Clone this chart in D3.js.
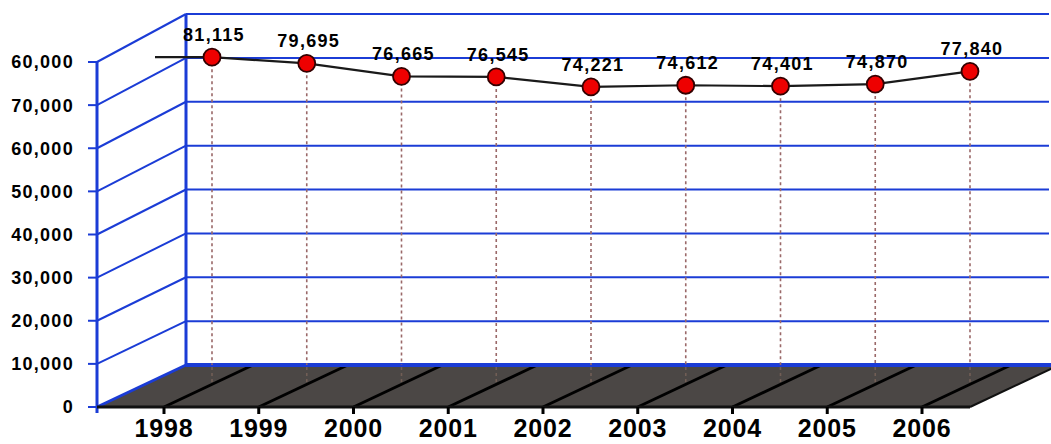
<!DOCTYPE html>
<html>
<head>
<meta charset="utf-8">
<script src="https://cdn.jsdelivr.net/npm/d3@7"></script>
<style>
  body { margin: 0; background: #fff; overflow: hidden; }
  svg { display: block; }
  text { font-family: "Liberation Sans", Arial, sans-serif; font-weight: bold; fill: #000; }
</style>
</head>
<body>
<script>
// data
var years = ["1998", "1999", "2000", "2001", "2002", "2003", "2004", "2005", "2006"];
var values = [81115, 79695, 76665, 76545, 74221, 74612, 74401, 74870, 77840];
var valueLabels = ["81,115", "79,695", "76,665", "76,545", "74,221", "74,612", "74,401", "74,870", "77,840"];
var tickValues = [0, 10000, 20000, 30000, 40000, 50000, 60000, 70000, 80000];
var tickLabels = ["0", "10,000", "20,000", "30,000", "40,000", "50,000", "60,000", "70,000", "60,000"];

var width = 1051, height = 444;
var blue = "#1b3cd6";
var depthX = 89; // offset from front plane to back wall
var floorRight = 970, wallLeft = 97, backRight = 1049;

var svg = d3.select("body").append("svg")
    .attr("width", width)
    .attr("height", height);

// scales
var yFront = d3.scaleLinear().domain([0, 80000]).range([407, 62]);
var yBack = d3.scaleLinear().domain([0, 80000]).range([365, 14]);
var x = d3.scalePoint().domain(years).range([164, 922]);
var ptX = function(d, i) { return x(years[i]) + 48; };

//back wall gridlines
svg.selectAll("line.grid")
    .data(tickValues.slice(1))
    .enter().append("line")
    .attr("class", "grid")
    .attr("x1", wallLeft + depthX).attr("x2", backRight)
    .attr("y1", function(d) { return yBack(d); })
    .attr("y2", function(d) { return yBack(d); })
    .attr("stroke", blue).attr("stroke-width", 2);

//left wall diagonals
svg.selectAll("line.side")
    .data(tickValues.slice(1))
    .enter().append("line")
    .attr("class", "side")
    .attr("x1", wallLeft).attr("x2", wallLeft + depthX)
    .attr("y1", function(d) { return yFront(d); })
    .attr("y2", function(d) { return yBack(d); })
    .attr("stroke", blue).attr("stroke-width", 2);

// left wall ticks
svg.selectAll("line.ytick")
    .data(tickValues)
    .enter().append("line")
    .attr("class", "ytick")
    .attr("x1", wallLeft - 9).attr("x2", wallLeft)
    .attr("y1", function(d) { return yFront(d); })
    .attr("y2", function(d) { return yFront(d); })
    .attr("stroke", blue).attr("stroke-width", 2);

// verticals
svg.append("line")
    .attr("x1", wallLeft).attr("x2", wallLeft)
    .attr("y1", yFront(80000)).attr("y2", yFront(0) + 6)
    .attr("stroke", blue).attr("stroke-width", 3);
svg.append("line")
    .attr("x1", wallLeft + depthX).attr("x2", wallLeft + depthX)
    .attr("y1", yBack(80000)).attr("y2", yBack(0))
    .attr("stroke", blue).attr("stroke-width", 3);

// floor
var floorPts = [
  [wallLeft, yFront(0)], [floorRight, yFront(0)],
  [floorRight + depthX, yBack(0)], [wallLeft + depthX, yBack(0)]
];
svg.append("polygon")
    .attr("points", floorPts.map(function(p) { return p.join(","); }).join(" "))
    .attr("fill", "#4b4745");

svg.selectAll("line.fdiag")
    .data(years)
    .enter().append("line")
    .attr("class", "fdiag")
    .attr("x1", function(d) { return x(d); })
    .attr("x2", function(d) { return x(d) + depthX; })
    .attr("y1", yFront(0)).attr("y2", yBack(0))
    .attr("stroke", "#000").attr("stroke-width", 3);

// floor edges
svg.append("line")
    .attr("x1", wallLeft + depthX).attr("x2", backRight + 4)
    .attr("y1", yBack(0)).attr("y2", yBack(0))
    .attr("stroke", blue).attr("stroke-width", 4);
svg.append("line")
    .attr("x1", wallLeft).attr("x2", wallLeft + depthX)
    .attr("y1", yFront(0)).attr("y2", yBack(0))
    .attr("stroke", blue).attr("stroke-width", 3);
svg.append("line")
    .attr("x1", wallLeft).attr("x2", floorRight)
    .attr("y1", yFront(0)).attr("y2", yFront(0))
    .attr("stroke", "#111").attr("stroke-width", 3);
svg.append("line")
    .attr("x1", floorRight).attr("x2", floorRight + depthX)
    .attr("y1", yFront(0)).attr("y2", yBack(0))
    .attr("stroke", "#111").attr("stroke-width", 2);

// x ticks
svg.selectAll("line.xtick")
    .data(years)
    .enter().append("line")
    .attr("class", "xtick")
    .attr("x1", function(d) { return x(d); })
    .attr("x2", function(d) { return x(d); })
    .attr("y1", yFront(0)).attr("y2", yFront(0) + 7)
    .attr("stroke", "#000").attr("stroke-width", 3);

// y labels
svg.selectAll("text.ylab")
    .data(tickValues)
    .enter().append("text")
    .attr("class", "ylab")
    .attr("x", 74)
    .attr("y", function(d) { return yFront(d); })
    .attr("dy", "0.36em")
    .attr("text-anchor", "end")
    .style("font-size", "18px")
    .style("letter-spacing", "1.3px")
    .text(function(d, i) { return tickLabels[i]; });

// x labels
svg.selectAll("text.xlab")
    .data(years)
    .enter().append("text")
    .attr("class", "xlab")
    .attr("x", function(d) { return x(d); })
    .attr("y", 437)
    .attr("text-anchor", "middle")
    .style("font-size", "25px")
    .style("letter-spacing", "0.8px")
    .text(function(d) { return d; });

// drop lines
svg.selectAll("line.drop")
    .data(values)
    .enter().append("line")
    .attr("class", "drop")
    .attr("x1", ptX).attr("x2", ptX)
    .attr("y1", function(d) { return yFront(d); })
    .attr("y2", yBack(0))
    .attr("stroke", "#9a6868").attr("stroke-width", 1.6)
    .attr("stroke-dasharray", "3,3");
svg.selectAll("line.drop2")
    .data(values)
    .enter().append("line")
    .attr("class", "drop2")
    .attr("x1", ptX).attr("x2", ptX)
    .attr("y1", yBack(0) + 2)
    .attr("y2", yBack(0) + 20)
    .attr("stroke", "#a07a6a").attr("stroke-width", 1.6)
    .attr("stroke-dasharray", "3,3")
    .attr("opacity", 0.45);

// data line (with the short lead-in at the left)
var linePts = values.map(function(d, i) { return [ptX(d, i), yFront(d)]; });
linePts.unshift([linePts[0][0] - 57, linePts[0][1]]);
svg.append("path")
    .attr("d", d3.line()(linePts))
    .attr("fill", "none")
    .attr("stroke", "#1a1a1a")
    .attr("stroke-width", 2.2);

svg.selectAll("circle.pt")
    .data(values)
    .enter().append("circle")
    .attr("class", "pt")
    .attr("cx", ptX)
    .attr("cy", function(d) { return yFront(d); })
    .attr("r", 8.5)
    .attr("fill", "#ee0000")
    .attr("stroke", "#300").attr("stroke-width", 1.8);

svg.selectAll("text.val")
    .data(values)
    .enter().append("text")
    .attr("class", "val")
    .attr("x", function(d, i) { return ptX(d, i) + 2; })
    .attr("y", function(d) { return yFront(d) - 16; })
    .attr("text-anchor", "middle")
    .style("font-size", "18px")
    .style("letter-spacing", "1.3px")
    .text(function(d, i) { return valueLabels[i]; });
</script>
</body>
</html>
